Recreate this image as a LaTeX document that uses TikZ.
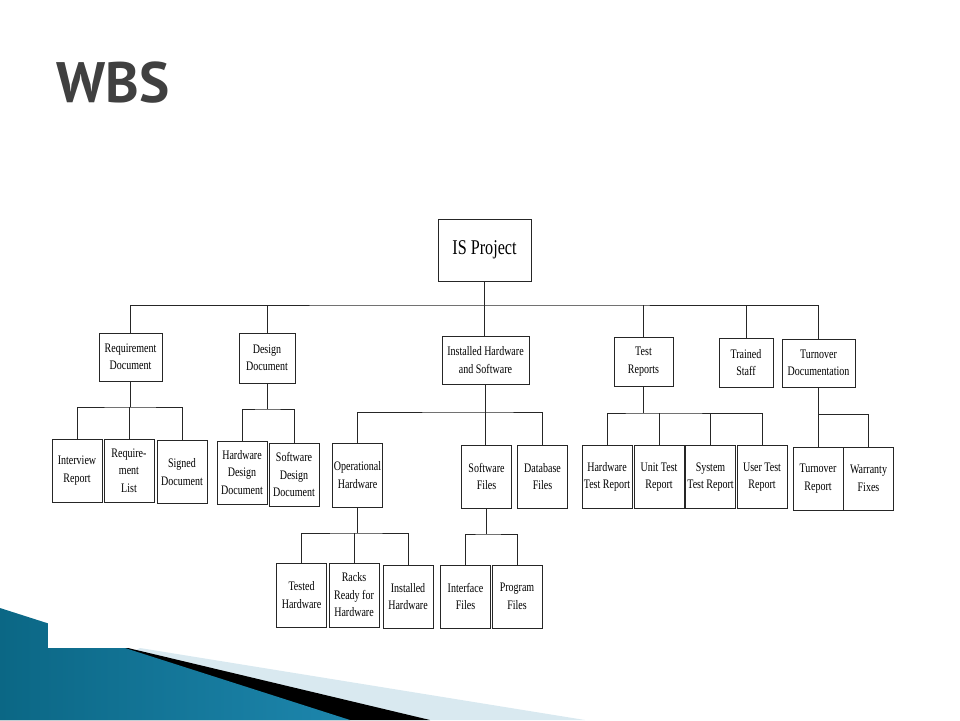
\documentclass[tikz,border=0pt]{standalone}
\usepackage{fontspec}
\setmainfont{Liberation Serif}
\newfontfamily\chartfont[FakeStretch=0.77]{Liberation Serif}
\newfontfamily\titlefont{PT Sans}
\usetikzlibrary{positioning,calc}
\definecolor{titlegray}{HTML}{404040}
\definecolor{linegray}{HTML}{262626}
\definecolor{paleblue}{HTML}{D9E9F0}
\definecolor{deepteal}{HTML}{0B6785}
\definecolor{skyteal}{HTML}{4CB2D6}
\definecolor{midteal}{HTML}{1D86AD}
\tikzset{wbs/.style={draw=linegray,line width=1pt,align=center,inner sep=1pt,font=\chartfont\fontsize{13}{17.5}\selectfont},leaf/.style={wbs,minimum width=50,minimum height=63},link/.style={draw=linegray,line width=0.9pt}}

\begin{document}
\begin{tikzpicture}[x=1pt,y=-1pt]
\useasboundingbox (0,0) rectangle (960,720);
\fill[paleblue] (140,648) -- (585,720) -- (0,720) -- cycle;
\fill[black] (0,617) -- (128,648) -- (430,720) -- (0,720) -- cycle;
\shade[left color=deepteal,middle color=skyteal,right color=midteal] (0,608) -- (350,720) -- (0,720) -- cycle;
\fill[white] (48,560) rectangle (960,648);
\node[font=\titlefont\bfseries\fontsize{57}{62}\selectfont,text=titlegray,anchor=base west,inner sep=0] (title) at (56,102) {WBS};

\node[wbs,minimum width=93,minimum height=62,font=\chartfont\fontsize{21}{24}\selectfont] (project) at (484.5,250) {IS Project};

\node[wbs,minimum width=63,minimum height=48] (reqdoc) at (130.5,357) {Requirement\\Document};
\node[wbs,minimum width=56,minimum height=50] (designdoc) at (267,358) {Design\\Document};
\node[wbs,minimum width=87,minimum height=48] (installed) at (485.5,360) {Installed Hardware\\and Software};
\node[wbs,minimum width=59,minimum height=49] (testrep) at (643.5,361.5) {Test\\Reports};
\node[wbs,minimum width=54,minimum height=49] (staff) at (746,362.5) {Trained\\Staff};
\node[wbs,minimum width=73,minimum height=48] (turnover) at (818.5,363) {Turnover\\Documentation};

\node[leaf] (interview) at (77,470.5) {Interview\\Report};
\node[leaf] (reqlist) at (129,470.5) {Require-\\ment\\List};
\node[leaf] (signed) at (182,472) {Signed\\Document};
\node[leaf] (hwdesign) at (242,472.5) {Hardware\\Design\\Document};
\node[leaf] (swdesign) at (294,474.5) {Software\\Design\\Document};
\node[leaf,minimum height=64] (ophw) at (357.5,475) {Operational\\Hardware};
\node[leaf] (swfiles) at (486.5,476.5) {Software\\Files};
\node[leaf] (dbfiles) at (542.5,476.5) {Database\\Files};
\node[leaf] (hwtest) at (607,477) {Hardware\\Test Report};
\node[leaf] (unittest) at (659,477) {Unit Test\\Report};
\node[leaf] (systest) at (710.5,477) {System\\Test Report};
\node[leaf] (usertest) at (762,477) {User Test\\Report};
\node[leaf] (turnrep) at (818,478.5) {Turnover\\Report};
\node[leaf] (warranty) at (868.5,478.5) {Warranty\\Fixes};

\node[leaf,minimum height=64] (tested) at (301.5,595) {Tested\\Hardware};
\node[leaf,minimum height=64] (racks) at (354,595) {Racks\\Ready for\\Hardware};
\node[leaf] (insthw) at (408,596.5) {Installed\\Hardware};
\node[leaf] (ifaces) at (465.5,596.5) {Interface\\Files};
\node[leaf] (programs) at (517,596.5) {Program\\Files};

\coordinate (topbus) at (484.5,305);
\coordinate (reqbus) at (130.5,407);
\coordinate (desbus) at (267,409);
\coordinate (instbus) at (485.5,412);
\coordinate (testbus) at (643.5,413);
\coordinate (turnbus) at (818.5,414);
\coordinate (opbus) at (357.5,533);
\coordinate (swbus) at (485,534);

\draw[link] (project.south) -- (project.south |- installed.north);
\draw[link] (reqdoc.north) |- (topbus) -| (turnover.north);
\draw[link] (designdoc.north) -- (designdoc.north |- topbus);
\draw[link] (testrep.north) -- (testrep.north |- topbus);
\draw[link] (staff.north) -- (staff.north |- topbus);

\draw[link] (reqdoc.south) -- (reqdoc.south |- reqbus);
\draw[link] (interview.north) |- (reqbus) -| (signed.north);
\draw[link] (reqlist.north) -- (reqlist.north |- reqbus);

\draw[link] (designdoc.south) -- (designdoc.south |- desbus);
\draw[link] (hwdesign.north) |- (desbus) -| (swdesign.north);

\draw[link] (installed.south) -- (installed.south |- swfiles.north);
\draw[link] (ophw.north) |- (instbus) -| (dbfiles.north);

\draw[link] (testrep.south) -- (testrep.south |- testbus);
\draw[link] (hwtest.north) |- (testbus) -| (usertest.north);
\draw[link] (unittest.north) -- (unittest.north |- testbus);
\draw[link] (systest.north) -- (systest.north |- testbus);

\draw[link] (turnover.south) -- (turnover.south |- turnbus) -| (warranty.north);
\draw[link] (turnrep.north) -- (turnrep.north |- turnbus);

\draw[link] (ophw.south) -- (ophw.south |- opbus);
\draw[link] (tested.north) |- (opbus) -| (insthw.north);
\draw[link] (racks.north) -- (racks.north |- opbus);

\draw[link] (swfiles.south) -- (swfiles.south |- swbus);
\draw[link] (ifaces.north) |- (swbus) -| (programs.north);
\end{tikzpicture}
\end{document}
